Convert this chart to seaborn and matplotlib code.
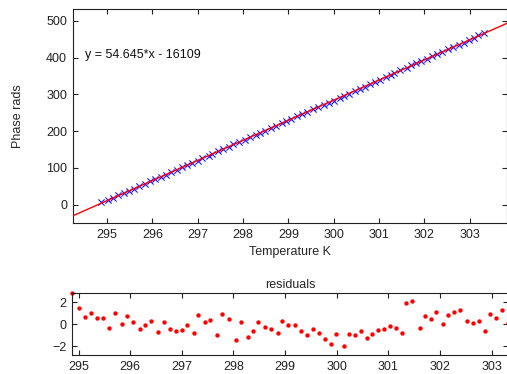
import matplotlib
matplotlib.use("Agg")
import matplotlib.pyplot as plt
import seaborn as sns
import numpy as np

# temperature readings (K) and fit residuals (rads)
temperature = [294.874, 295.016, 295.132, 295.249, 295.365, 295.482, 295.598, 295.703,
               295.839, 295.936, 296.058, 296.194, 296.291, 296.408, 296.544, 296.647,
               296.763, 296.880, 296.996, 297.101, 297.237, 297.315, 297.447, 297.553,
               297.683, 297.786, 297.909, 298.039, 298.142, 298.278, 298.375, 298.480,
               298.608, 298.732, 298.854, 298.946, 299.062, 299.184, 299.301, 299.417,
               299.540, 299.656, 299.773, 299.897, 299.994, 300.130, 300.233, 300.344,
               300.466, 300.577, 300.685, 300.796, 300.913, 301.023, 301.140, 301.268,
               301.334, 301.450, 301.606, 301.709, 301.819, 301.928, 302.058, 302.161,
               302.278, 302.383, 302.511, 302.627, 302.757, 302.868, 302.971, 303.087,
               303.190, 303.314]
residuals = [2.85, 1.47, 0.66, 1.05, 0.54, 0.54, -0.33, 1.05, 0.03, 0.75,
             0.21, -0.42, -0.09, 0.30, -0.72, 0.21, -0.42, -0.60, -0.51, -0.06,
             -0.78, 0.87, 0.21, 0.42, -0.96, 0.96, 0.48, -1.44, 0.21, -1.14,
             -0.60, 0.24, -0.24, -0.42, -0.78, 0.33, -0.06, -0.06, -0.60, -0.96,
             -0.48, -0.78, -1.32, -1.80, -0.87, -1.98, -0.87, -0.96, -0.60, -1.23,
             -0.87, -0.51, -0.42, -0.15, -0.33, -0.78, 1.95, 2.07, -0.33, 0.75,
             0.51, 1.14, 0.03, 0.87, 1.11, 1.32, 0.33, 0.12, 0.33, -0.60,
             0.93, 0.57, 1.32, 0.12]
slope = 54.645
intercept = -16109

x_ticks = [295, 296, 297, 298, 299, 300, 301, 302, 303]
phase_ticks = [0, 100, 200, 300, 400, 500]
resid_ticks = [-2, 0, 2]

sns.set_style("ticks")
plt.rcParams['font.family'] = ['Liberation Sans', 'DejaVu Sans']
plt.rcParams['font.size'] = 9

T = np.array(temperature)
phase = slope * T + intercept + np.array(residuals)

fig = plt.figure(figsize=(5.07, 3.74), dpi=100)
ax = fig.add_axes([0.1434, 0.4029, 0.8566, 0.5730])
ax2 = fig.add_axes([0.1420, 0.0508, 0.8600, 0.1650])

# top: phase vs temperature with the linear fit
xlim = (294.24, 303.82)
sns.scatterplot(x=T, y=phase, marker='x', color='#1a1aff', s=20, linewidth=0.8, ax=ax, zorder=2)
xfit = np.array(xlim)
ax.plot(xfit, slope * xfit + intercept, color='red', lw=1.0, zorder=3)
ax.set_xlim(xlim)
ax.set_ylim(-50.5, 532)
ax.set_xticks(x_ticks)
ax.set_yticks(phase_ticks)
ax.set_xlabel('Temperature K', labelpad=4)
ax.set_ylabel('Phase rads')
ax.yaxis.set_label_coords(-0.112, 0.5)
ax.text(294.51, 408, 'y = 54.645*x - 16109', va='center', ha='left', fontsize=9, color='#111111')

# bottom: residuals
sns.scatterplot(x=T, y=residuals, marker='o', color='red', s=10, linewidth=0, ax=ax2, clip_on=False)
ax2.set_xlim(temperature[0], temperature[-1])
ax2.set_ylim(-2.8, 2.8)
ax2.set_xticks(x_ticks)
ax2.set_yticks(resid_ticks)
ax2.set_title('residuals', fontsize=9, pad=4)

for a in (ax, ax2):
    a.tick_params(direction='in', length=3.5, width=0.8, top=True, right=True,
                  labelsize=9, colors='#222222', pad=4)
    for s in a.spines.values():
        s.set_color('#222222')
        s.set_linewidth(0.8)
    a.grid(False)

fig.savefig('out.png', dpi=100)
